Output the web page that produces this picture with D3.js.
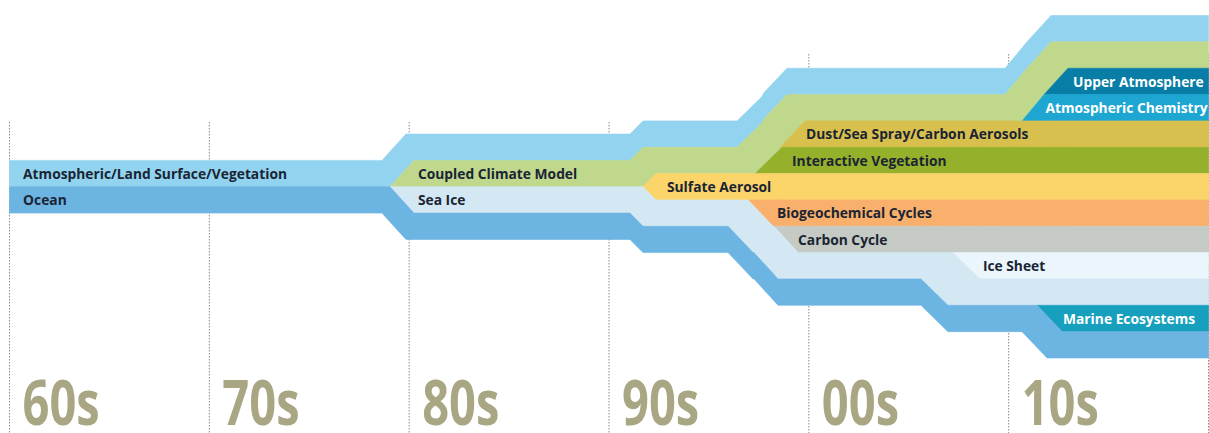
<!DOCTYPE html>
<html>
<head>
<meta charset="utf-8">
<script src="https://cdn.jsdelivr.net/npm/d3@7"></script>
<style>
  html, body { margin: 0; padding: 0; background: #fff; }
  svg { display: block; }
</style>
</head>
<body>
<svg width="1209" height="433"></svg>
<script>
const decades = [1960, 1970, 1980, 1990, 2000, 2010, 2020];
const decadeLabels = ['60s', '70s', '80s', '90s', '00s', '10s'];

// model components, top to bottom; Sulfate Aerosol sits on the centre line
const bandNames = [
  'Atmospheric/Land Surface/Vegetation',
  'Coupled Climate Model',
  'Upper Atmosphere',
  'Atmospheric Chemistry',
  'Dust/Sea Spray/Carbon Aerosols',
  'Interactive Vegetation',
  'Sulfate Aerosol',
  'Biogeochemical Cycles',
  'Carbon Cycle',
  'Ice Sheet',
  'Sea Ice',
  'Marine Ecosystems',
  'Ocean'
];
// year a component starts to wedge in, and year it has its full width
const bandStart = [1960, 1979.04, 2011.77, 2010.67, 1998.56, 1997.31, 1991.7, 1996.96, 1998.26, 2007.21, 1979.04, 2011.42, 1960];
const bandFull  = [1960, 1980.24, 2012.97, 2011.77, 1999.81, 1998.66, 1992.35, 1998.21, 1999.46, 2008.56, 1980.24, 2012.67, 1960];
// how many years earlier the outer components make room for it
const bandLead  = [0, 0.4, 0.85, 0.85, 0.9, 0.9, 0.65, 1.0, 1.0, 1.6, 0.4, 0.75, 0];
// where each label starts
const labelYears = [1960.68, 1980.44, 2013.22, 2011.84, 1999.86, 1999.16, 1992.9, 1998.41, 1999.46, 2008.71, 1980.44, 2012.72, 1960.68];

const colors = ['#92d4f0', '#bfd88c', '#087da5', '#1ea6d2', '#d8c04e', '#95b02b', '#fbd46a',
                '#f8b06c', '#c5cbc4', '#eaf5fc', '#d4e8f4', '#17a0be', '#6cb4e2'];
const whiteText = new Set(['Upper Atmosphere', 'Atmospheric Chemistry', 'Marine Ecosystems']);

const width = 1209, height = 433;
const svg = d3.select('svg');

const x = d3.scaleLinear().domain([1960, 2020]).range([9.5, 1208.5]);
const y = d3.scaleLinear().domain([-6.5, 6.5]).range([15.5, 358]);

const n = bandNames.length;
const centre = bandNames.indexOf('Sulfate Aerosol');

const ramp = (i, lead) => bandFull[i] <= bandStart[i]
  ? () => 1
  : d3.scaleLinear().domain([bandStart[i] - lead, bandFull[i] - lead]).range([0, 1]).clamp(true);

// nearest component further out that is already there when band i comes in
function outwardNeighbour(i, dir) {
  for (let j = i + dir; j >= 0 && j < n; j += dir) if (bandStart[j] < bandStart[i]) return j;
  return -1;
}

// the outward neighbour widens early, then gives the room back as the new band wedges in
const bumps = bandNames.map(() => []);
bandNames.forEach((name, i) => {
  if (!bandLead[i]) return;
  const dirs = i < centre ? [[-1, 1]] : i > centre ? [[1, 1]] : [[-1, 0.5], [1, 0.5]];
  dirs.forEach(([dir, share]) => {
    const j = outwardNeighbour(i, dir);
    if (j >= 0) bumps[j].push({ share, early: ramp(i, bandLead[i]), late: ramp(i, 0) });
  });
});
const own = bandNames.map((name, i) => ramp(i, 0));
const thickness = (i, yr) => own[i](yr) + d3.sum(bumps[i], b => b.share * (b.early(yr) - b.late(yr)));

const years = Array.from(new Set([
  1960, 2020, ...bandStart, ...bandFull,
  ...bandStart.map((s, i) => s - bandLead[i]), ...bandFull.map((f, i) => f - bandLead[i])
])).filter(yr => yr >= 1960).sort((a, b) => a - b);

const rows = years.map(yr => {
  const row = { year: yr };
  bandNames.forEach((name, i) => { row[name] = thickness(i, yr); });
  return row;
});

function offsetCentre(series, order) {
  d3.stackOffsetNone(series, order);
  for (let j = 0; j < series[0].length; j++) {
    const c = series[centre][j];
    const shift = (c[0] + c[1]) / 2;
    series.forEach(s => { s[j][0] -= shift; s[j][1] -= shift; });
  }
}

const stacked = d3.stack().keys(bandNames).offset(offsetCentre)(rows);

// decade grid
svg.append('g')
  .selectAll('line')
  .data(decades)
  .join('line')
  .attr('x1', d => x(d)).attr('x2', d => x(d))
  .attr('y1', d => d < 2000 ? 122 : 54).attr('y2', height)
  .attr('stroke', '#8a8a8a')
  .attr('stroke-width', 1)
  .attr('stroke-dasharray', '1.5,1.5');

const area = d3.area()
  .x(d => x(d.data.year))
  .y0(d => y(d[0]))
  .y1(d => y(d[1]));

svg.append('g')
  .selectAll('path')
  .data(stacked)
  .join('path')
  .attr('d', (s, i) => area(s.filter(d => d.data.year >= bandStart[i] || d[1] - d[0] > 1e-9)))
  .attr('fill', (s, i) => colors[i])
  .attr('stroke', (s, i) => colors[i])
  .attr('stroke-width', 0.6);

// labels
svg.append('g')
  .selectAll('text')
  .data(stacked)
  .join('text')
  .attr('x', (s, i) => x(labelYears[i]))
  .attr('y', (s, i) => {
    const pts = s.filter(d => d.data.year <= labelYears[i]);
    const p = pts[pts.length - 1];
    return y((p[0] + p[1]) / 2) + 5.3;
  })
  .attr('font-family', '"Open Sans", sans-serif')
  .attr('font-weight', 700)
  .attr('font-size', 13.8)
  .attr('fill', s => whiteText.has(s.key) ? '#ffffff' : '#1a2433')
  .text(s => s.key);

// decade labels
svg.append('g')
  .selectAll('text')
  .data(decadeLabels)
  .join('text')
  .attr('transform', (d, i) => `translate(${x(decades[i]) + 13},425) scale(0.76,1)`)
  .attr('font-family', '"Open Sans", sans-serif')
  .attr('font-weight', 700)
  .attr('font-size', 62)
  .attr('fill', '#a9a683')
  .text(d => d);
</script>
</body>
</html>
